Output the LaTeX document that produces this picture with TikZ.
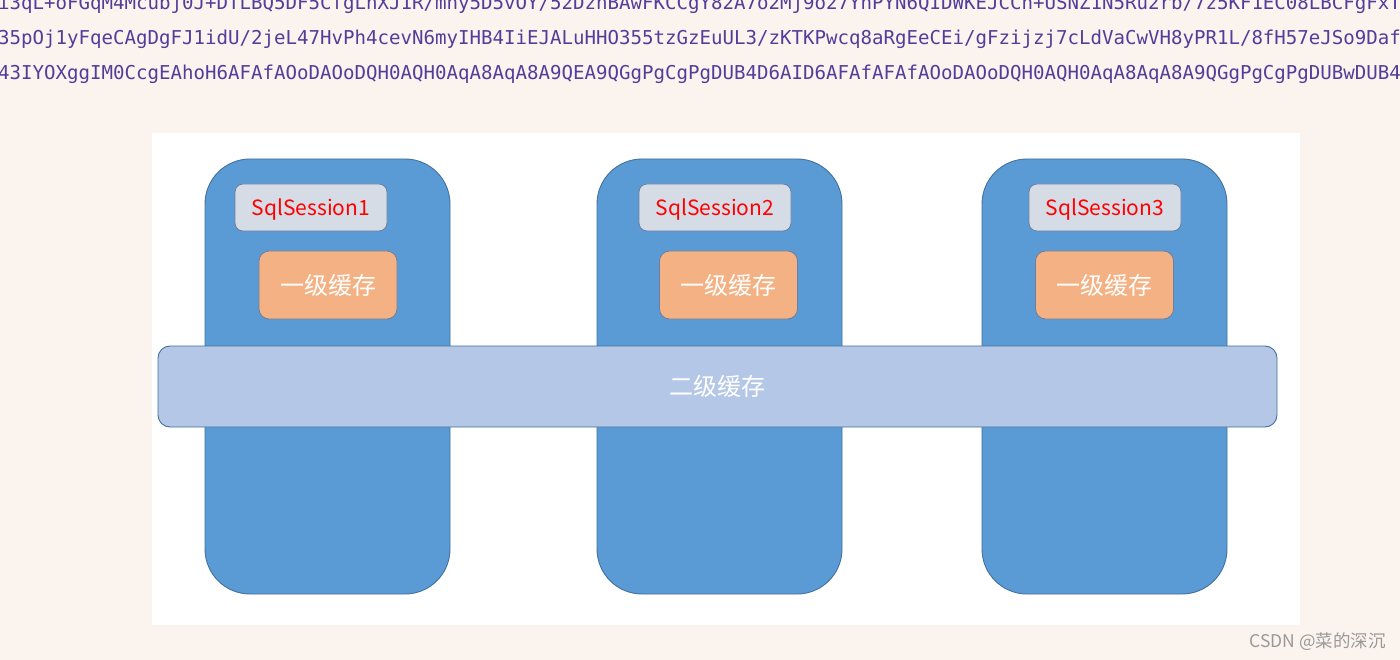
\documentclass[tikz,border=0pt]{standalone}
\usepackage{fontspec}
\setmainfont{Noto Sans CJK SC}
\newfontfamily\monof{DejaVu Sans Mono}
\definecolor{bgc}{HTML}{FBF4EE}
\definecolor{codec}{HTML}{553C9A}
\definecolor{colfill}{HTML}{5B9BD5}
\definecolor{colline}{HTML}{41719C}
\definecolor{sessfill}{HTML}{D6DCE5}
\definecolor{sessline}{HTML}{6A7F9F}
\definecolor{cachefill}{HTML}{F4B183}
\definecolor{barfill}{HTML}{B4C7E7}
\definecolor{wm}{HTML}{999999}
\tikzset{
  codeline/.style={anchor=base west, inner sep=0pt, text=codec, font=\monof\fontsize{19.1}{19.1}\selectfont},
  colbox/.style={draw=colline, fill=colfill, line width=0.9pt, rounded corners=45pt, minimum width=245pt, minimum height=435pt, inner sep=0pt, outer sep=0pt},
  sessbox/.style={draw=sessline, fill=sessfill, line width=0.8pt, rounded corners=8pt, minimum width=152pt, minimum height=47pt, inner sep=0pt, text depth=0pt, text=red, font=\fontsize{21}{21}\selectfont},
  cachebox/.style={draw=sessline, fill=cachefill, line width=0.8pt, rounded corners=10pt, minimum width=138pt, minimum height=68pt, inner sep=0pt, text=white, font=\fontsize{24}{24}\selectfont},
  barbox/.style={draw=colline, fill=barfill, line width=0.9pt, rounded corners=12pt, minimum width=1119pt, minimum height=81pt, inner sep=0pt, text=white, font=\fontsize{24}{24}\selectfont},
}
\begin{document}
\begin{tikzpicture}[x=1pt,y=-1pt]
\useasboundingbox (0,0) rectangle (1400,660);
\clip (0,0) rectangle (1400,660);
\fill[bgc] (0,0) rectangle (1400,660);
\node[codeline] (l1) at (-2,10) {i3qL+oFGqM4Mcubj0J+DTLBQ5DF5CfgLhXJ1R/mny5D5vOY/52DzhBAwFKCCgY82A7o2Mj9o27YnPYN6QIDWKEJCCn+USNZ1N5Ru2rb/7z5KF1EC08LBCFgFxTj};
\node[codeline] (l2) at (-2,45) {35pOj1yFqeCAgDgFJ1idU/2jeL47HvPh4cevN6myIHB4IiEJALuHHO355tzGzEuUL3/zKTKPwcq8aRgEeCEi/gFzijzj7cLdVaCwVH8yPR1L/8fH57eJSo9DafV};
\node[codeline] (l3) at (-2,80) {43IYOXggIM0CcgEAhoH6AFAfAOoDAOoDQH0AQH0AqA8AqA8A9QEA9QGgPgCgPgDUB4D6AID6AFAfAFAfAOoDAOoDQH0AQH0AqA8AqA8A9QGgPgCgPgDUBwDUB4D};
\node[fill=white, minimum width=1148pt, minimum height=492pt, inner sep=0pt, outer sep=0pt] (panel) at (726,379) {};
\node[colbox] (c1) at (327.5,376.5) {};
\node[colbox] (c2) at (719.5,376.5) {};
\node[colbox] (c3) at (1104.5,376.5) {};
\node[sessbox] (s1) at (311,207.5) {SqlSession1};
\node[sessbox] (s2) at (715,207.5) {SqlSession2};
\node[sessbox] (s3) at (1105,207.5) {SqlSession3};
\node[cachebox] (k1) at (328,285) {一级缓存};
\node[cachebox] (k2) at (728.5,285) {一级缓存};
\node[cachebox] (k3) at (1104.5,285) {一级缓存};
\node[barbox] (bar) at (717.5,386.5) {二级缓存};
\node[anchor=east, inner sep=0pt, text=wm, font=\fontsize{17.5}{17.5}\selectfont] (wmk) at (1386,642) {CSDN @菜的深沉};
\end{tikzpicture}
\end{document}
